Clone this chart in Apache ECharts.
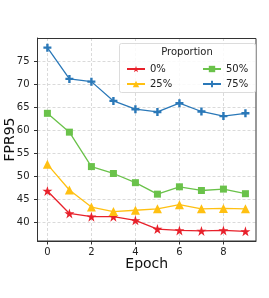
<!DOCTYPE html>
<html><head><meta charset="utf-8">
<script src="https://cdn.jsdelivr.net/npm/echarts@6/dist/echarts.min.js"></script>
<style>html,body{margin:0;padding:0;background:#fff}#c{width:269px;height:298px}</style>
</head><body><div id="c"></div>
<script>
const epochs = [0,1,2,3,4,5,6,7,8,9];
const names = ['0%','25%','50%','75%'];
const p0  = [46.8,41.9,41.2,41.2,40.4,38.5,38.2,38.1,38.2,38.0];
const p25 = [52.6,47.0,43.3,42.3,42.6,42.9,43.8,42.9,43.0,42.9];
const p50 = [63.7,59.6,52.1,50.6,48.6,46.1,47.7,46.9,47.2,46.2];
const p75 = [78.0,71.2,70.6,66.4,64.6,64.0,65.9,64.1,63.1,63.7];
const yTicks = [40,45,50,55,60,65,70,75];
const xTicks = [0,2,4,6,8];

const colors = ['#e8212b','#ffc012','#6ac24a','#2a78b8'];
const symbols = [
  'path://M50,0 L61.8,36.2 L100,36.2 L69.1,58.8 L80.9,95.1 L50,72.7 L19.1,95.1 L30.9,58.8 L0,36.2 L38.2,36.2 Z',
  'triangle','rect',
  'path://M35,0 L65,0 L65,35 L100,35 L100,65 L65,65 L65,100 L35,100 L35,65 L0,65 L0,35 L35,35 Z'];
const sizes = [10,9,7,8];
const datas = [p0,p25,p50,p75];

const chart = echarts.init(document.getElementById('c'), null, {renderer:'canvas'});
const font = 'DejaVu Sans';
const series = datas.map((d,i)=>({
  name: names[i], type:'line',
  data: epochs.map((e,j)=>[e,d[j]]),
  symbol: symbols[i], symbolSize: sizes[i],
  lineStyle:{color:colors[i], width:1.3},
  itemStyle:{color:colors[i]},
  showSymbol:true, animation:false
}));
chart.setOption({
  animation:false,
  grid:{left:37.5, right:13, top:38, bottom:57, show:false, containLabel:false, outerBoundsMode:'none'},
  xAxis:{type:'value', min:-0.45, max:9.48,
    name:'Epoch', nameLocation:'middle', nameGap:16, nameMoveOverlap:false,
    nameTextStyle:{fontFamily:font, fontSize:14, color:'#111'},
    axisLine:{show:true, onZero:false, lineStyle:{color:'#333', width:1}},
    axisTick:{show:true, length:3.5, customValues:xTicks, lineStyle:{color:'#333'}},
    axisLabel:{customValues:xTicks, fontFamily:font, fontSize:10, color:'#222', margin:6},
    splitLine:{show:true, lineStyle:{color:'#d0d0d0', type:[3,2], width:0.8}}
  },
  yAxis:{type:'value', min:35.9, max:80.1,
    name:'FPR95', nameLocation:'middle', nameGap:20, nameMoveOverlap:false,
    nameTextStyle:{fontFamily:font, fontSize:14, color:'#111'},
    axisLine:{show:true, onZero:false, lineStyle:{color:'#333', width:1}},
    axisTick:{show:true, length:3.5, customValues:yTicks, lineStyle:{color:'#333'}},
    axisLabel:{customValues:yTicks, fontFamily:font, fontSize:10, color:'#222', margin:8},
    splitLine:{show:true, lineStyle:{color:'#d0d0d0', type:[3,2], width:0.8}}
  },
  legend:[
    {data:['0%','25%'], orient:'vertical', left:121, top:59, itemWidth:18, itemHeight:8, itemGap:5,
     textStyle:{fontFamily:font, fontSize:10, color:'#222'}, z:20},
    {data:['50%','75%'], orient:'vertical', left:197, top:59, itemWidth:18, itemHeight:8, itemGap:5,
     textStyle:{fontFamily:font, fontSize:10, color:'#222'}, z:20}
  ],
  graphic:[
    {type:'rect', shape:{x:119.5, y:43.5, width:136, height:49, r:2}, z:10,
     style:{fill:'rgba(255,255,255,0.85)', stroke:'#dcdcdc', lineWidth:1}},
    {type:'text', x:187, y:52, z:11, style:{text:'Proportion', fontFamily:font, fontSize:10, fill:'#222', textAlign:'center', textVerticalAlign:'middle'}},
    {type:'rect', shape:{x:37.5, y:38.5, width:218.5, height:202.5}, z:5, silent:true,
     style:{fill:'none', stroke:'#333', lineWidth:1}}
  ],
  series: series
});
</script></body></html>
